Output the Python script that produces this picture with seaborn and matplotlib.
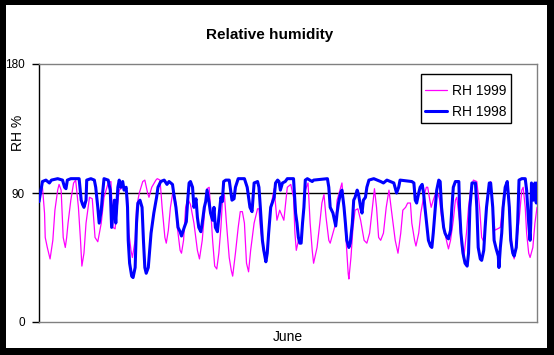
import pandas as pd
import seaborn as sns
import matplotlib.pyplot as plt
from matplotlib.patches import Rectangle

# hour of June, relative humidity (%)
hours_1999 = [2, 5, 8, 9, 12, 16, 20, 23, 27, 29, 32, 35, 38, 40, 42, 46, 50, 53, 57, 60,
              62, 65, 68, 73, 77, 81, 85, 90, 94, 100, 104, 107, 110, 113, 116, 121, 126, 128, 130, 133,
              135, 139, 141, 145, 150, 153, 157, 159, 163, 169, 171, 175, 178, 182, 184, 187, 190, 194, 198, 200,
              204, 206, 209, 212, 215, 219, 224, 229, 232, 236, 240, 243, 246, 248, 251, 254, 257, 260, 263, 265,
              268, 271, 275, 278, 280, 284, 288, 291, 294, 297, 300, 303, 306, 311, 316, 318, 320, 325, 329, 331,
              335, 340, 344, 348, 354, 359, 364, 368, 370, 372, 376, 379, 385, 389, 392, 395, 397, 402, 406, 409,
              412, 415, 419, 421, 425, 429, 431, 435, 438, 441, 444, 447, 448, 451, 454, 457, 461, 465, 470, 474,
              478, 482, 485, 488, 491, 494, 498, 502, 506, 509, 515, 519, 523, 526, 530, 533, 537, 539, 543, 545,
              549, 552, 556, 560, 562, 565, 567, 570, 575, 579, 582, 586, 590, 592, 595, 599, 602, 604, 608, 611,
              614, 618, 621, 624, 628, 633, 637, 640, 643, 645, 647, 651, 653, 656, 659, 663, 667, 670, 674, 677,
              680, 682, 685, 687, 691, 695, 698, 700, 703, 705, 708, 710, 714, 717, 720]
rh_1999 = [92, 94, 76, 59, 52, 44, 57, 78, 92, 96, 92, 59, 52, 59, 69, 85, 97, 99, 80, 57,
           39, 48, 69, 87, 86, 59, 56, 69, 87, 97, 98, 66, 65, 80, 92, 94, 93, 87, 62, 50,
           45, 57, 80, 90, 98, 99, 90, 87, 94, 99, 100, 99, 80, 59, 55, 64, 80, 92, 83, 66,
           50, 48, 57, 80, 86, 82, 69, 50, 44, 57, 80, 93, 94, 80, 57, 39, 37, 48, 66, 83,
           89, 69, 45, 36, 32, 48, 66, 77, 77, 69, 41, 35, 50, 69, 79, 79, 66, 48, 45, 57,
           80, 93, 71, 78, 71, 94, 96, 87, 62, 50, 59, 58, 92, 97, 69, 50, 41, 52, 69, 83,
           89, 73, 57, 55, 62, 69, 85, 92, 97, 80, 57, 34, 30, 45, 66, 78, 79, 71, 57, 55,
           62, 80, 93, 80, 59, 57, 62, 80, 92, 80, 57, 48, 62, 78, 80, 83, 83, 69, 57, 53,
           62, 76, 87, 94, 94, 85, 80, 85, 92, 86, 73, 64, 55, 51, 57, 71, 85, 87, 71, 52,
           44, 62, 80, 92, 99, 98, 80, 59, 56, 64, 80, 94, 98, 80, 64, 65, 66, 80, 93, 97,
           80, 64, 48, 44, 57, 76, 92, 94, 80, 62, 48, 45, 52, 69, 80]

hours_1998 = [0, 5, 10, 15, 18, 27, 34, 37, 39, 41, 46, 58, 61, 63, 65, 68, 69, 75, 80, 82,
              85, 87, 90, 92, 94, 100, 103, 105, 109, 111, 114, 116, 118, 121, 123, 126, 128, 129, 131, 134,
              136, 139, 141, 143, 146, 149, 151, 153, 155, 158, 162, 166, 170, 172, 176, 181, 185, 188, 193, 195,
              198, 201, 204, 206, 210, 213, 215, 217, 219, 222, 224, 227, 229, 231, 234, 236, 239, 241, 243, 246,
              248, 251, 253, 255, 258, 260, 263, 265, 267, 270, 275, 277, 279, 282, 284, 288, 297, 301, 305, 308,
              311, 316, 318, 320, 323, 325, 328, 330, 332, 335, 340, 342, 345, 347, 349, 352, 356, 359, 368, 371,
              373, 375, 377, 379, 381, 383, 385, 388, 395, 397, 417, 419, 421, 425, 429, 431, 433, 436, 438, 441,
              443, 445, 448, 450, 453, 455, 457, 460, 462, 465, 467, 469, 472, 474, 477, 484, 494, 498, 503, 508,
              513, 517, 520, 522, 539, 542, 544, 546, 549, 551, 554, 556, 558, 561, 563, 566, 568, 570, 573, 575,
              578, 580, 582, 585, 587, 590, 592, 595, 597, 599, 602, 607, 608, 610, 613, 616, 619, 621, 623, 626,
              631, 633, 635, 638, 640, 643, 645, 647, 651, 653, 656, 658, 661, 664, 665, 667, 669, 671, 674, 677,
              680, 682, 685, 687, 690, 692, 694, 698, 703, 705, 708, 710, 711, 712, 715, 717, 719, 720]
rh_1998 = [84, 98, 99, 97, 99, 100, 99, 94, 93, 99, 100, 100, 85, 82, 80, 85, 99, 100, 99, 94,
           80, 69, 78, 90, 100, 99, 92, 66, 85, 69, 94, 99, 94, 98, 92, 94, 80, 57, 41, 32,
           31, 38, 69, 83, 85, 80, 57, 38, 34, 38, 62, 76, 87, 94, 98, 99, 96, 98, 96, 89,
           80, 66, 63, 60, 66, 70, 85, 97, 98, 94, 80, 86, 73, 66, 63, 69, 80, 84, 92, 83,
           76, 71, 80, 66, 63, 73, 87, 84, 98, 99, 99, 92, 85, 86, 94, 100, 100, 94, 80, 77,
           97, 98, 94, 80, 57, 50, 42, 48, 62, 80, 87, 97, 99, 98, 92, 97, 98, 100, 100, 76,
           69, 59, 55, 55, 69, 80, 99, 100, 98, 99, 100, 94, 80, 76, 67, 76, 83, 90, 92, 80,
           69, 57, 52, 55, 69, 85, 87, 92, 89, 80, 76, 85, 87, 94, 99, 100, 98, 97, 99, 98,
           97, 90, 94, 99, 98, 97, 85, 83, 90, 94, 96, 90, 80, 66, 57, 53, 52, 62, 80, 92,
           99, 98, 80, 66, 62, 59, 58, 64, 80, 94, 98, 98, 80, 62, 48, 41, 39, 48, 80, 97,
           97, 80, 52, 44, 43, 50, 66, 80, 97, 97, 80, 57, 51, 46, 38, 52, 62, 80, 94, 98,
           80, 57, 48, 46, 52, 69, 99, 100, 100, 92, 69, 57, 69, 97, 85, 97, 83, 97]

df99 = pd.DataFrame({"hour": hours_1999, "rh": rh_1999})
df98 = pd.DataFrame({"hour": hours_1998, "rh": rh_1998})

sns.set_style("white")
plt.rcParams["font.family"] = ["Liberation Sans", "DejaVu Sans"]
plt.rcParams["text.color"] = "black"
plt.rcParams["ytick.color"] = "black"

W, H = 554, 355
fig = plt.figure(figsize=(W / 100, H / 100), dpi=100, facecolor="black")
# white chart area inside the thick black frame
fig.patches.append(Rectangle((6 / W, 7 / H), 541 / W, 343 / H, transform=fig.transFigure,
                             facecolor="white", edgecolor="none", zorder=-1))

ax = fig.add_axes([39 / W, 33 / H, 498 / W, 258 / H])
ax.set_zorder(1)
ax.set_facecolor("white")

sns.lineplot(data=df99, x="hour", y="rh", color="#ff00ff", linewidth=0.9,
             estimator=None, label="RH 1999", ax=ax, zorder=3)
sns.lineplot(data=df98, x="hour", y="rh", color="#0000ff", linewidth=2.2,
             estimator=None, label="RH 1998", ax=ax, zorder=4)
handles, labels = ax.get_legend_handles_labels()
ax.get_legend().remove()

ax.axhline(90, color="black", linewidth=1, zorder=2)
ax.set_xlim(0, 720)
ax.set_ylim(0, 180)
ax.set_yticks([0, 90, 180])
ax.set_xticks([])
ax.set_xlabel("")
ax.set_ylabel("")
ax.tick_params(axis="y", direction="out", length=5, width=1, color="black",
               labelcolor="black", labelsize=8.5, pad=5, left=True)

for side in ["top", "right", "bottom"]:
    ax.spines[side].set_color("#808080")
    ax.spines[side].set_linewidth(1)
ax.spines["left"].set_color("black")
ax.spines["left"].set_linewidth(1)

fig.text(269.5 / W, 1 - 34.5 / H, "Relative humidity", ha="center", va="center",
         fontsize=11, fontweight="bold")
fig.text(18 / W, 1 - 133 / H, "RH %", ha="center", va="center", rotation=90, fontsize=10)
fig.text(288 / W, 1 - 337 / H, "June", ha="center", va="center", fontsize=10)

# legend box
fig.patches.append(Rectangle((421 / W, 1 - 122.5 / H), 90 / W, 48.5 / H,
                             transform=fig.transFigure, facecolor="white",
                             edgecolor="black", linewidth=1, zorder=2))
leg = fig.legend(handles, labels, loc="center left", bbox_to_anchor=(424.5 / W, 1 - 101.5 / H),
                 fontsize=10, frameon=False, handlelength=1.65, handletextpad=0.3,
                 borderpad=0, labelspacing=0.55, borderaxespad=0)
leg.set_zorder(3)
for t in leg.get_texts():
    t.set_color("black")

fig.savefig("out.png", dpi=100, facecolor=fig.get_facecolor())
